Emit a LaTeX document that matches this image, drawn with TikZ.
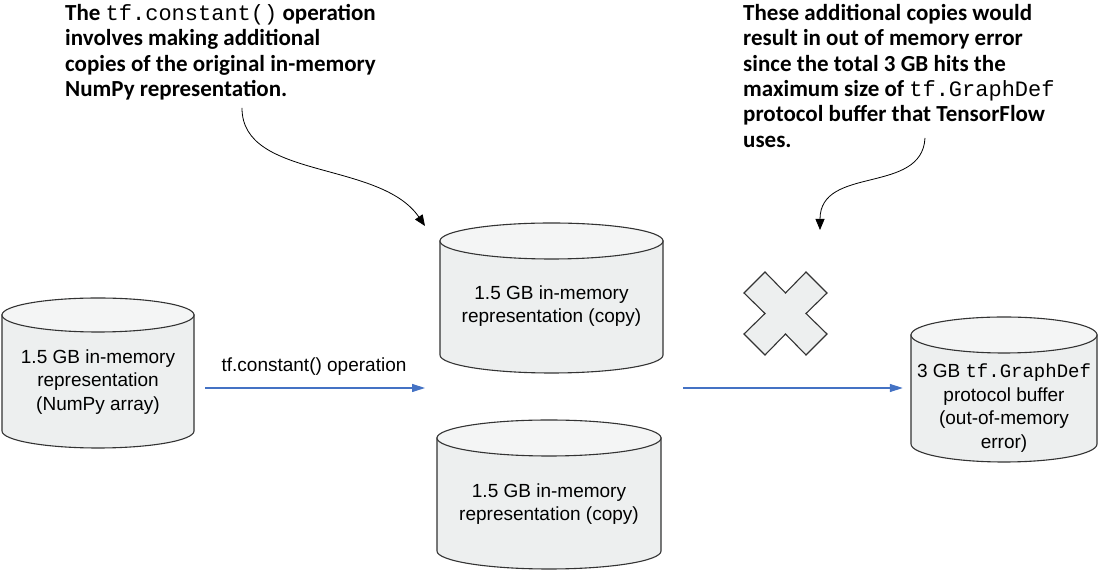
\documentclass[tikz,border=0pt]{standalone}
\usepackage{fontspec}
\setmainfont{Liberation Sans}
\setmonofont{Liberation Mono}
\newfontfamily\annfont{Carlito}
\usetikzlibrary{arrows.meta}
\definecolor{cylfill}{HTML}{EDEFEF}
\definecolor{cyltop}{HTML}{F4F5F5}
\definecolor{flowblue}{HTML}{4472C4}
\definecolor{edgegray}{HTML}{333333}
\newcommand\drawcyl[5]{% cx, ytop, ybot, rx, ry
  \path[cylbody] ({#1-#4},#2) -- ({#1-#4},#3)
    arc[start angle=180,end angle=360,x radius=#4,y radius=#5]
    -- ({#1+#4},#2) -- cycle;
  \path[cylbody,fill=cyltop] (#1,#2) ellipse[x radius=#4,y radius=#5];
}
\tikzset{
  cylbody/.style={draw=edgegray,fill=cylfill,line width=1.1pt},
  cyltext/.style={align=center,inner sep=0pt,font=\fontsize{19}{23.5}\selectfont},
  flow/.style={draw=flowblue,line width=1.1pt,-{Triangle[length=13pt,width=8pt]}},
  callout/.style={draw=black,line width=0.8pt,-{Triangle[length=11pt,width=9pt]}},
  ann/.style={align=left,inner sep=0pt,anchor=north west,font=\annfont\bfseries\fontsize{23}{25.4}\selectfont},
  xmark/.style={draw=edgegray,fill=cylfill,line width=1.1pt,line join=miter},
}
\newcommand\cf[1]{{\mdseries\ttfamily\fontsize{22}{25.4}\selectfont #1}}
\begin{document}
\begin{tikzpicture}[x=1pt,y=1pt]
\useasboundingbox (0,0) rectangle (1100,572);
% cylinders
\drawcyl{98}{257}{141}{96}{17}
\drawcyl{551.5}{331}{217}{111.5}{18}
\drawcyl{549}{134}{21}{112}{18}
\drawcyl{1004}{237}{128}{93}{18}
% cylinder texts
\node[cyltext,minimum width=192pt] (A) at (98,190) {1.5 GB in-memory\\representation\\(NumPy array)};
\node[cyltext,minimum width=223pt] (B) at (551.5,266) {1.5 GB in-memory\\representation (copy)};
\node[cyltext,minimum width=224pt] (C) at (549,68) {1.5 GB in-memory\\representation (copy)};
\node[cyltext,minimum width=186pt] (D) at (1004,164) {3 GB {\ttfamily tf.GraphDef}\\protocol buffer\\(out-of-memory\\error)};
% flow arrows
\coordinate (p2) at (425,184);
\coordinate (p3) at (683,184);
\draw[flow,shorten <=11pt] (A.east |- p2) -- (p2);
\node[font=\fontsize{19}{23}\selectfont,inner sep=0pt] (lab) at (314,205) {tf.constant() operation};
\draw[flow,shorten >=8pt] (p3) -- (p3 -| D.west);
% cross
\begin{scope}[shift={(785.5,258.5)}]
\path[xmark] (0,20.5) -- (20.5,41.5) -- (41.5,20.5) -- (20.5,0) -- (41.5,-20.5) -- (20.5,-41.5) -- (0,-20.5) -- (-20.5,-41.5) -- (-41.5,-20.5) -- (-20.5,0) -- (-41.5,20.5) -- (-20.5,41.5) -- cycle;
\end{scope}
% annotations
\node[ann] (N1) at (65,568) {The \cf{tf.constant()} operation\\involves making additional\\copies of the original in-memory\\NumPy representation.};
\node[ann] (N2) at (743,568) {These additional copies would\\result in out of memory error\\since the total 3 GB hits the\\maximum size of \cf{tf.GraphDef}\\protocol buffer that TensorFlow\\uses.};
\coordinate (s1) at (242,464);
\coordinate (e1) at (425,346);
\coordinate (s2) at (925,434);
\coordinate (e2) at (820,342);
\draw[callout] (s1) .. controls (242,392) and (380,412) .. (e1);
\draw[callout] (s2) .. controls (922,377) and (820,407) .. (e2);
\end{tikzpicture}
\end{document}
